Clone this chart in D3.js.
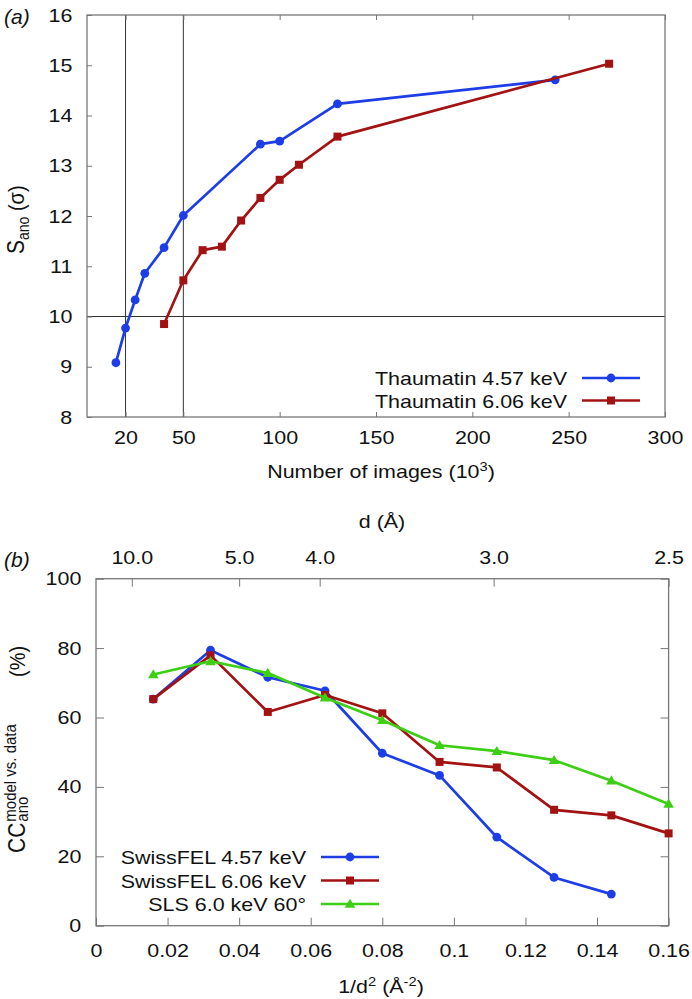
<!DOCTYPE html>
<html><head><meta charset="utf-8">
<script src="https://cdn.jsdelivr.net/npm/d3@7"></script>
<style>
html,body{margin:0;padding:0;background:#fff;}
svg{display:block;}
text{font-family:"Liberation Sans",Arial,sans-serif;fill:#111;}
</style></head>
<body>
<svg id="chart" width="692" height="999"></svg>
<script>
// ---------- Data: panel (a) ----------
const imagesA_457 = [15, 20, 25, 30, 40, 50, 90, 100, 130, 243];
const sano_457    = [9.08, 9.77, 10.33, 10.86, 11.37, 12.01, 13.43, 13.49, 14.23, 14.71];
const imagesA_606 = [40, 50, 60, 70, 80, 90, 100, 110, 130, 271];
const sano_606    = [9.85, 10.72, 11.32, 11.39, 11.91, 12.36, 12.72, 13.02, 13.58, 15.03];
const xTicksA = [20, 50, 100, 150, 200, 250, 300];
const yTicksA = [8, 9, 10, 11, 12, 13, 14, 15, 16];
const refLinesX = [20, 50];
const refLineY = [10];
const legendA = ["Thaumatin 4.57 keV", "Thaumatin 6.06 keV"];

// ---------- Data: panel (b) ----------
const invd2_fel457 = [0.016, 0.032, 0.048, 0.064, 0.080, 0.096, 0.112, 0.128, 0.144];
const cc_fel457    = [65.3, 79.4, 71.6, 67.7, 49.7, 43.3, 25.5, 13.9, 9.1];
const invd2_fel606 = [0.016, 0.032, 0.048, 0.064, 0.080, 0.096, 0.112, 0.128, 0.144, 0.160];
const cc_fel606    = [65.3, 77.9, 61.6, 66.5, 61.2, 47.2, 45.6, 33.4, 31.8, 26.6];
const invd2_sls    = [0.016, 0.032, 0.048, 0.064, 0.080, 0.096, 0.112, 0.128, 0.144, 0.160];
const cc_sls       = [72.4, 76.2, 72.8, 65.7, 59.2, 52.0, 50.3, 47.7, 41.8, 35.1];
const xTicksB = [0, 0.02, 0.04, 0.06, 0.08, 0.1, 0.12, 0.14, 0.16];
const yTicksB = [0, 20, 40, 60, 80, 100];
const dTicksB = [10.0, 5.0, 4.0, 3.0, 2.5];
const legendB = ["SwissFEL 4.57 keV", "SwissFEL 6.06 keV", "SLS 6.0 keV 60\u00B0"];

const BLUE = "#1d3de6", RED = "#a31212", GREEN = "#3ccf14";
const FRAME = "#777", SX = 1.13, FS = 19;

const svg = d3.select("#chart");

function stretchText(sel){ sel.attr("transform", function(){ const t=d3.select(this).attr("transform")||""; return t + " scale(" + SX + ",1)"; }); }

function marker(g, type, x, y, color){
  if(type==="circle"){
    g.append("circle").attr("cx",x).attr("cy",y).attr("r",4.4).attr("fill",color);
  } else if(type==="square"){
    g.append("rect").attr("x",x-4).attr("y",y-4).attr("width",8).attr("height",8).attr("fill",color);
  } else {
    const s=d3.symbol().type(d3.symbolTriangle).size(48);
    g.append("path").attr("d",s()).attr("transform","translate("+x+","+(y+0.8)+")").attr("fill",color);
  }
}

function series(g, xs, ys, x, y, color, type){
  const pts = xs.map((d,i)=>[x(d), y(ys[i])]);
  g.append("path").attr("d", d3.line()(pts)).attr("fill","none")
    .attr("stroke",color).attr("stroke-width",2.7).attr("stroke-linejoin","round");
  pts.forEach(p=>marker(g,type,p[0],p[1],color));
}

function label(g, x, y, anchor, size){
  return g.append("text").attr("transform","translate("+x+","+y+") scale("+SX+",1)")
    .attr("text-anchor",anchor).attr("font-size",size||FS);
}

// =================== Panel (a) ===================
{
  const L=87, R=665, T=15, B=417;
  const x = d3.scaleLinear().domain([0,300]).range([L,R]);
  const y = d3.scaleLinear().domain([8,16]).range([B,T]);
  const g = svg.append("g");

  refLinesX.forEach(v=>g.append("line").attr("x1",x(v)).attr("x2",x(v)).attr("y1",T).attr("y2",B).attr("stroke","#333").attr("stroke-width",1));
  refLineY.forEach(v=>g.append("line").attr("x1",L).attr("x2",R).attr("y1",y(v)).attr("y2",y(v)).attr("stroke","#333").attr("stroke-width",1));

  const ax = g.append("g").attr("transform","translate(0,"+B+")")
    .call(d3.axisBottom(x).tickValues(xTicksA).tickSize(-5).tickPadding(14));
  const axT = g.append("g").attr("transform","translate(0,"+T+")")
    .call(d3.axisTop(x).tickValues(xTicksA).tickSize(-5).tickFormat(""));
  const ay = g.append("g").attr("transform","translate("+L+",0)")
    .call(d3.axisLeft(y).tickValues(yTicksA).tickSize(-5).tickPadding(13));
  [ax,axT,ay].forEach(a=>{ a.select(".domain").remove(); a.selectAll("line").attr("stroke",FRAME);
    a.selectAll("text").attr("font-size",FS).attr("fill","#111").attr("font-family",'"Liberation Sans",Arial,sans-serif'); stretchText(a.selectAll("text")); });

  g.append("rect").attr("x",L).attr("y",T).attr("width",R-L).attr("height",B-T)
    .attr("fill","none").attr("stroke",FRAME).attr("stroke-width",1.3);

  series(g, imagesA_457, sano_457, x, y, BLUE, "circle");
  series(g, imagesA_606, sano_606, x, y, RED, "square");

  const lg = [[legendA[0],BLUE,"circle"],[legendA[1],RED,"square"]];
  lg.forEach((d,i)=>{
    const yy = 378 + i*22.5;
    label(g, 567, yy+7, "end").text(d[0]);
    g.append("line").attr("x1",582).attr("x2",640).attr("y1",yy).attr("y2",yy).attr("stroke",d[1]).attr("stroke-width",2.7);
    marker(g, d[2], 611, yy, d[1]);
  });

  const xl = label(g, 381, 478, "middle");
  xl.append("tspan").text("Number of images (10");
  xl.append("tspan").attr("font-size",13).attr("dy",-7).text("3");
  xl.append("tspan").attr("dy",7).text(")");

  const yl = g.append("text").attr("transform","translate(24,254) rotate(-90) scale(1,1.13)")
    .attr("font-size",21);
  yl.append("tspan").text("S");
  yl.append("tspan").attr("font-size",14).attr("dy",4).text("ano");
  yl.append("tspan").attr("dy",-4).attr("font-size",20).text(" (\u03C3)");

  g.append("text").attr("x",4).attr("y",24).attr("font-family",'"Liberation Serif",serif')
    .attr("font-style","italic").attr("font-size",21).text("(a)");
}

// =================== Panel (b) ===================
{
  const L=96, R=668.6, T=578.7, B=925.7;
  const x = d3.scaleLinear().domain([0,0.16]).range([L,R]);
  const y = d3.scaleLinear().domain([0,100]).range([B,T]);
  const g = svg.append("g");

  const fmt = d => d===0 ? "0" : d3.format("~g")(d);
  const ax = g.append("g").attr("transform","translate(0,"+B+")")
    .call(d3.axisBottom(x).tickValues(xTicksB).tickSize(-8).tickPadding(18).tickFormat(fmt));
  const axT = g.append("g").attr("transform","translate(0,"+T+")")
    .call(d3.axisTop(x).tickValues(dTicksB.map(d=>1/(d*d))).tickSize(-8).tickPadding(15)
      .tickFormat((v,i)=>d3.format(".1f")(dTicksB[i])));
  const ay = g.append("g").attr("transform","translate("+L+",0)")
    .call(d3.axisLeft(y).tickValues(yTicksB).tickSize(-8).tickPadding(13));
  const ayR = g.append("g").attr("transform","translate("+R+",0)")
    .call(d3.axisRight(y).tickValues(yTicksB).tickSize(-8).tickFormat(""));
  [ax,axT,ay,ayR].forEach(a=>{ a.select(".domain").remove(); a.selectAll("line").attr("stroke",FRAME);
    a.selectAll("text").attr("font-size",FS).attr("fill","#111").attr("font-family",'"Liberation Sans",Arial,sans-serif'); stretchText(a.selectAll("text")); });

  g.append("rect").attr("x",L).attr("y",T).attr("width",R-L).attr("height",B-T)
    .attr("fill","none").attr("stroke",FRAME).attr("stroke-width",1.3);

  series(g, invd2_fel457, cc_fel457, x, y, BLUE, "circle");
  series(g, invd2_fel606, cc_fel606, x, y, RED, "square");
  series(g, invd2_sls, cc_sls, x, y, GREEN, "triangle");

  const lg = [[legendB[0],BLUE,"circle"],[legendB[1],RED,"square"],[legendB[2],GREEN,"triangle"]];
  lg.forEach((d,i)=>{
    const yy = 857 + i*23.5;
    label(g, 306, yy+7, "end").text(d[0]);
    g.append("line").attr("x1",321).attr("x2",379).attr("y1",yy).attr("y2",yy).attr("stroke",d[1]).attr("stroke-width",2.7);
    marker(g, d[2], 350, yy, d[1]);
  });

  const xl = label(g, 381, 993, "middle");
  xl.append("tspan").text("1/d");
  xl.append("tspan").attr("font-size",13).attr("dy",-7).text("2");
  xl.append("tspan").attr("dy",7).text(" (\u00C5");
  xl.append("tspan").attr("font-size",13).attr("dy",-7).text("-2");
  xl.append("tspan").attr("dy",7).text(")");

  label(g, 382, 528, "middle").text("d (\u00C5)");

  const yg = g.append("g").attr("transform","translate(25,853) rotate(-90) scale(1,1.13)");
  const cc = yg.append("text").attr("font-size",21).text("CC");
  const w = cc.node().getComputedTextLength();
  yg.append("text").attr("x",w+1).attr("y",-8).attr("font-size",15).text("model vs. data");
  yg.append("text").attr("x",w+1).attr("y",3).attr("font-size",15).text("ano");
  yg.append("text").attr("x",176).attr("y",0).attr("font-size",20).text("(%)");

  g.append("text").attr("x",4).attr("y",567).attr("font-family",'"Liberation Serif",serif')
    .attr("font-style","italic").attr("font-size",21).text("(b)");
}
</script>
</body></html>
